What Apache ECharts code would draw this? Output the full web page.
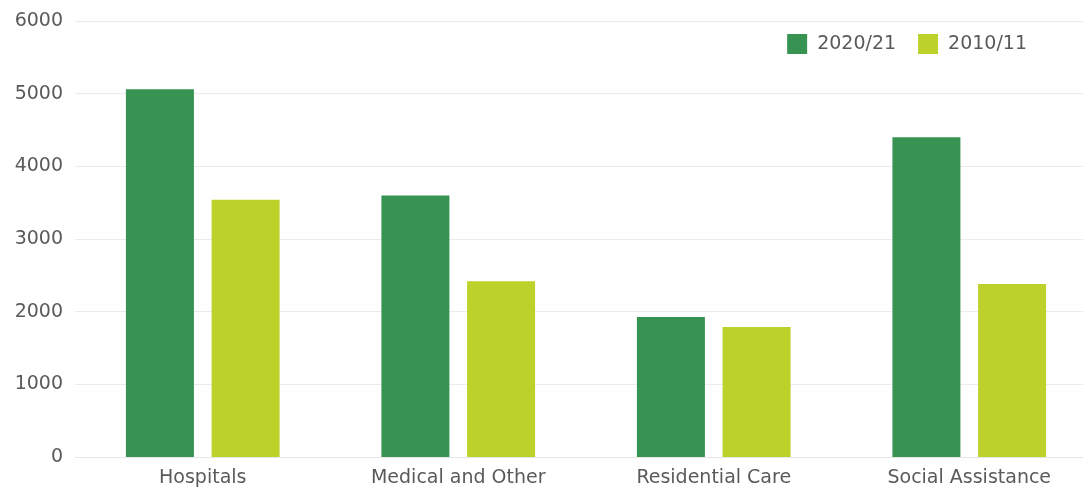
<!DOCTYPE html>
<html>
<head>
<meta charset="utf-8">
<script src="https://cdn.jsdelivr.net/npm/echarts@6/dist/echarts.min.js"></script>
<style>html,body{margin:0;padding:0;background:#fff;overflow:hidden;width:1083px;height:490px;}#c{width:1097px;height:490px;}</style>
</head>
<body>
<div id="c"></div>
<script>
const categories = ['Hospitals', 'Medical and Other', 'Residential Care', 'Social Assistance'];
const seriesNames = ['2020/21', '2010/11'];
const values2020 = [5060, 3600, 1925, 4400];
const values2010 = [3540, 2420, 1790, 2380];
const yTicks = [0, 1000, 2000, 3000, 4000, 5000, 6000];

const chart = echarts.init(document.getElementById('c'), null, {renderer: 'canvas'});
const font = '"DejaVu Sans", sans-serif';
chart.setOption({
  animation: false,
  backgroundColor: '#ffffff',
  grid: {left: 75, top: 21, right: 0, bottom: 33, containLabel: false},
  legend: {
    data: seriesNames,
    right: 65, top: 29,
    itemWidth: 20, itemHeight: 20, itemGap: 22,
    icon: 'rect',
    textStyle: {color: '#5a5a5a', fontSize: 19, fontFamily: font, padding: [0, 0, 0, 5]}
  },
  xAxis: {
    type: 'category',
    data: categories,
    axisLine: {show: true, lineStyle: {color: '#e6e6e6', width: 1}},
    axisTick: {show: false},
    axisLabel: {color: '#5a5a5a', fontSize: 19, fontFamily: font, margin: 12}
  },
  yAxis: {
    type: 'value',
    min: yTicks[0], max: yTicks[yTicks.length - 1], interval: 1000,
    axisLine: {show: false},
    axisTick: {show: false},
    splitLine: {lineStyle: {color: '#ebebeb', width: 1}},
    axisLabel: {color: '#5a5a5a', fontSize: 19, fontFamily: font, margin: 12, formatter: function (v) { return String(v); }}
  },
  series: [
    {name: seriesNames[0], type: 'bar', data: values2020, barWidth: 68, barGap: '26%', itemStyle: {color: '#379352'}},
    {name: seriesNames[1], type: 'bar', data: values2010, barWidth: 68, itemStyle: {color: '#bdd12b'}}
  ]
});
</script>
</body>
</html>
